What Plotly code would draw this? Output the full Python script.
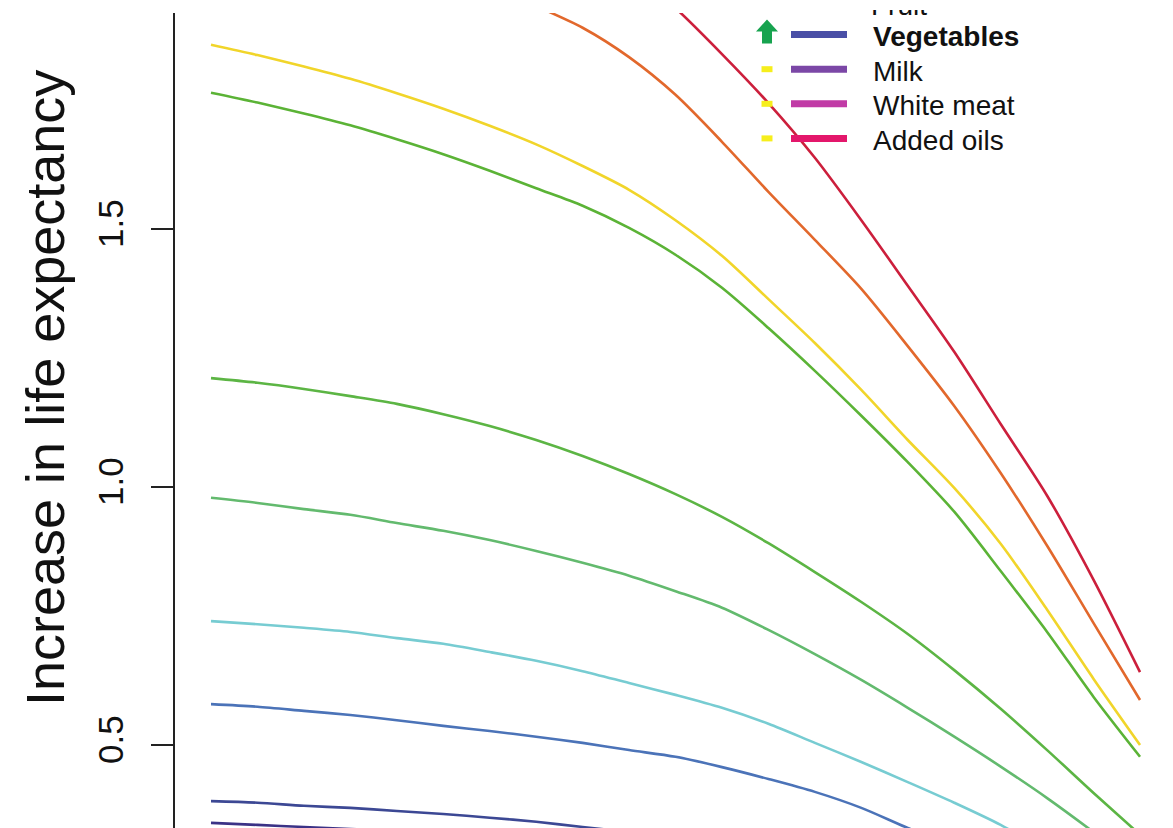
import plotly.graph_objects as go

# ---- data -------------------------------------------------------------
x_pct = [0, 5, 10, 15, 20, 25, 30, 35, 40, 45, 50,
         55, 60, 65, 70, 75, 80, 85, 90, 95, 100]

red = [2.461, 2.422, 2.382, 2.339, 2.293, 2.242, 2.188, 2.130, 2.068, 2.002, 1.928,
       1.839, 1.744, 1.638, 1.517, 1.390, 1.262, 1.122, 0.983, 0.820, 0.641]
orange = [2.134, 2.112, 2.089, 2.064, 2.037, 2.006, 1.971, 1.932, 1.890, 1.833, 1.760,
          1.669, 1.572, 1.479, 1.384, 1.273, 1.157, 1.027, 0.886, 0.736, 0.587]
yellow = [1.857, 1.837, 1.815, 1.791, 1.763, 1.733, 1.700, 1.664, 1.622, 1.576, 1.517,
          1.448, 1.364, 1.279, 1.188, 1.091, 0.998, 0.890, 0.762, 0.628, 0.500]
green_a = [1.764, 1.745, 1.724, 1.701, 1.674, 1.645, 1.613, 1.579, 1.545, 1.502, 1.450,
           1.386, 1.308, 1.225, 1.138, 1.048, 0.952, 0.837, 0.719, 0.593, 0.477]
green_b = [1.211, 1.202, 1.190, 1.176, 1.161, 1.141, 1.118, 1.091, 1.060, 1.025, 0.986,
           0.942, 0.891, 0.835, 0.777, 0.715, 0.645, 0.570, 0.490, 0.407, 0.326]
green_c = [0.979, 0.969, 0.957, 0.946, 0.930, 0.915, 0.897, 0.876, 0.853, 0.828, 0.798,
           0.766, 0.723, 0.676, 0.626, 0.572, 0.516, 0.458, 0.397, 0.331, 0.262]
cyan = [0.740, 0.734, 0.727, 0.719, 0.707, 0.696, 0.680, 0.663, 0.643, 0.620, 0.597,
        0.572, 0.541, 0.504, 0.467, 0.428, 0.388, 0.345, 0.293, 0.238, 0.180]
blue = [0.579, 0.574, 0.566, 0.558, 0.548, 0.537, 0.527, 0.516, 0.504, 0.490, 0.477,
        0.457, 0.434, 0.409, 0.378, 0.339, 0.304, 0.262, 0.215, 0.165, 0.110]
navy = [0.391, 0.388, 0.382, 0.378, 0.372, 0.366, 0.359, 0.351, 0.341, 0.331, 0.320,
        0.306, 0.291, 0.273, 0.254, 0.231, 0.205, 0.176, 0.143, 0.107, 0.068]
indigo = [0.349, 0.345, 0.341, 0.337, 0.333, 0.328, 0.322, 0.316, 0.308, 0.298, 0.289,
          0.277, 0.264, 0.248, 0.231, 0.211, 0.190, 0.165, 0.138, 0.109, 0.077]

y_ticks = [0.5, 1.0, 1.5]
y_tick_labels = ["0.5", "1.0", "1.5"]

legend_labels = ["Fruit", "Vegetables", "Milk", "White meat", "Added oils"]
legend_colors = [None, "#4A4FA6", "#7B47A6", "#C13BA6", "#E3176B"]
legend_marks = [None, "arrow", "dash", "dash", "dash"]

# ---- styling ----------------------------------------------------------
series = [
    (red, "#CC1F3C"),
    (orange, "#E2682C"),
    (yellow, "#F1D52A"),
    (green_a, "#5BB336"),
    (green_b, "#5CB544"),
    (green_c, "#63BA6E"),
    (cyan, "#77CCD2"),
    (blue, "#4B73B8"),
    (navy, "#3C4894"),
    (indigo, "#3B3286"),
]

W, H = 1173, 828
ML = 175
PANEL_TOP = 13          # top edge of the data panel, in pixels
PW = W - ML
FONT = "Liberation Sans, Arial, sans-serif"


def fx(px):
    """pixel x -> paper x"""
    return (px - ML) / PW


def fy(py):
    """pixel y (from top) -> paper y"""
    return (H - py) / H


fig = go.Figure()
for values, color in series:
    fig.add_trace(go.Scatter(x=x_pct, y=values, mode="lines",
                             line=dict(color=color, width=2.6,
                                       shape="spline", smoothing=0.8),
                             showlegend=False, hoverinfo="skip"))

shapes = []
annotations = []

# legend block in the upper right
row0_y = 0.0
row_gap = 34.6
mark_x = 767
line_x0, line_x1 = 791, 847
text_x = 871

# small box for the top legend row, whose label runs off the upper edge
box_x0, box_x1 = 860, 1100
box_top, box_bottom = 10, 60
clipped_anchor_y = 22   # pixel row just under the clipped label

for i, (label, color, mark) in enumerate(zip(legend_labels, legend_colors, legend_marks)):
    cy = row0_y + i * row_gap
    if color is not None:
        shapes.append(dict(type="line", xref="paper", yref="paper",
                           x0=fx(line_x0), x1=fx(line_x1), y0=fy(cy), y1=fy(cy),
                           line=dict(color=color, width=7)))
    if mark == "dash":
        shapes.append(dict(type="rect", xref="paper", yref="paper",
                           x0=fx(mark_x - 5.5), x1=fx(mark_x + 5.5),
                           y0=fy(cy - 3), y1=fy(cy + 3),
                           fillcolor="#F6EE1C", line=dict(width=0)))
    elif mark == "arrow":
        top, base, bottom = cy - 15, cy - 3, cy + 9
        pts = [(mark_x, top), (mark_x + 11, base), (mark_x + 5, base),
               (mark_x + 5, bottom), (mark_x - 5, bottom), (mark_x - 5, base),
               (mark_x - 11, base)]
        path = "M " + " L ".join(f"{fx(a):.5f},{fy(b):.5f}" for a, b in pts) + " Z"
        shapes.append(dict(type="path", xref="paper", yref="paper", path=path,
                           fillcolor="#17A34F", line=dict(width=0)))
    if i == 0:
        # clipped label drawn inside its own small box
        fig.add_trace(go.Scatter(
            x=[(text_x - box_x0) / (box_x1 - box_x0)],
            y=[(box_bottom - clipped_anchor_y) / (box_bottom - box_top)],
            mode="text", text=[label], textposition="top right",
            textfont=dict(family=FONT, size=28, color="#111111"),
            cliponaxis=True, xaxis="x2", yaxis="y2",
            showlegend=False, hoverinfo="skip"))
    else:
        annotations.append(dict(
            xref="paper", yref="paper", x=fx(text_x), y=fy(cy + 2),
            xanchor="left", yanchor="middle", showarrow=False,
            text=f"<b>{label}</b>" if label == "Vegetables" else label,
            font=dict(family=FONT, size=28, color="#111111")))

# y-axis title
annotations.append(dict(
    xref="paper", yref="paper", x=fx(45), y=fy(388),
    xanchor="center", yanchor="middle", showarrow=False, textangle=-90,
    text="Increase in life expectancy",
    font=dict(family=FONT, size=54, color="#111111")))

fig.update_layout(
    width=W, height=H,
    margin=dict(l=ML, r=0, t=0, b=0, pad=0),
    paper_bgcolor="white", plot_bgcolor="rgba(0,0,0,0)",
    showlegend=False,
    shapes=shapes,
    annotations=annotations,
    xaxis=dict(visible=False, range=[-3.875, 103.55]),
    yaxis=dict(range=[0.339, 1.9186], domain=[0, fy(PANEL_TOP)],
               showgrid=False, zeroline=False,
               showline=True, linecolor="#222222", linewidth=2,
               ticks="outside", ticklen=22, tickwidth=2, tickcolor="#222222",
               tickvals=y_ticks, ticktext=y_tick_labels,
               tickangle=-90, ticklabelstandoff=14,
               tickfont=dict(family=FONT, size=35, color="#111111")),
    xaxis2=dict(visible=False, range=[0, 1], domain=[fx(box_x0), fx(box_x1)],
                anchor="y2"),
    yaxis2=dict(visible=False, range=[0, 1], domain=[fy(box_bottom), fy(box_top)],
                anchor="x2"),
)

fig.write_html("out.html")
